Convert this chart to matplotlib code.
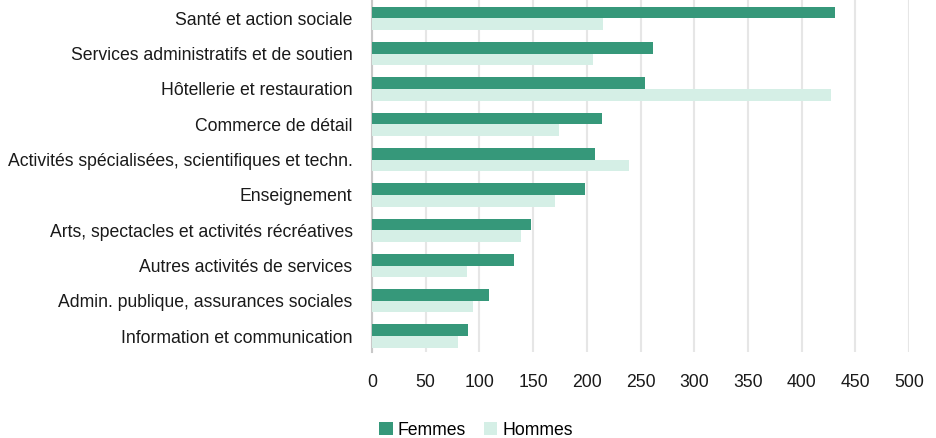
import matplotlib
matplotlib.use("Agg")
import matplotlib.pyplot as plt
import numpy as np
from matplotlib.font_manager import fontManager

categories = [
    "Santé et action sociale",
    "Services administratifs et de soutien",
    "Hôtellerie et restauration",
    "Commerce de détail",
    "Activités spécialisées, scientifiques et techn.",
    "Enseignement",
    "Arts, spectacles et activités récréatives",
    "Autres activités de services",
    "Admin. publique, assurances sociales",
    "Information et communication",
]
femmes = [431, 262, 254, 214, 208, 198, 148, 132, 109, 89]
hommes = [215, 206, 427, 174, 239, 170, 139, 88, 94, 80]
xticks = [0, 50, 100, 150, 200, 250, 300, 350, 400, 450, 500]

names = {f.name for f in fontManager.ttflist}
fam = "Liberation Sans Narrow" if "Liberation Sans Narrow" in names else "Liberation Sans"
plt.rcParams['font.family'] = [fam, 'DejaVu Sans']
fs = 12.7

c_f = "#36987A"
c_h = "#D5EFE6"

fig = plt.figure(figsize=(9.37, 4.38), dpi=100)
ax = fig.add_axes([372/937, 1-352/438, (909-372)/937, 352/438])

y = np.arange(len(categories))
h = 0.33
ax.barh(y - h/2, femmes, height=h, color=c_f, label="Femmes", zorder=3)
ax.barh(y + h/2, hommes, height=h, color=c_h, label="Hommes", zorder=3)

ax.set_xlim(0, 500)
ax.set_ylim(9.45, -0.52)
ax.set_yticks(y)
ax.set_yticklabels(categories, fontsize=fs, color="#1a1a1a")
ax.set_xticks(xticks)
ax.set_xticklabels([str(t) for t in xticks], fontsize=fs, color="#1a1a1a")
ax.tick_params(axis='both', length=0)
ax.tick_params(axis='y', pad=14)
ax.tick_params(axis='x', pad=16)
ax.grid(axis='x', color="#E6E6E6", linewidth=1.5, zorder=0)
for s in ["top", "right", "bottom"]:
    ax.spines[s].set_visible(False)
ax.spines["left"].set_color("#C8C8C8")
ax.spines["left"].set_linewidth(1.5)

fig.legend(loc="center", bbox_to_anchor=(0.508, 0.018), ncol=2, frameon=False,
           fontsize=fs, handlelength=0.75, handleheight=0.75, handletextpad=0.3,
           columnspacing=1.0)

fig.savefig("out.png", dpi=100)
